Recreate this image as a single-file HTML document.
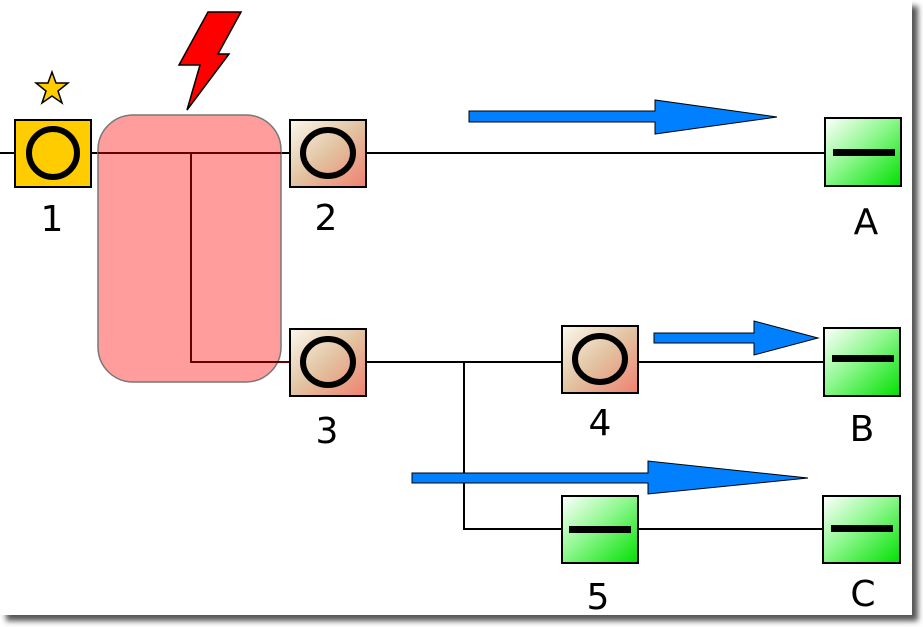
<!DOCTYPE html>
<html><head><style>html,body{margin:0;padding:0;background:#fff}svg{display:block}</style></head><body>
<svg width="923" height="627" viewBox="0 0 923 627" xmlns="http://www.w3.org/2000/svg" font-family="'DejaVu Sans','Liberation Sans',sans-serif">
<defs>
<linearGradient id="bg" x1="0" y1="0" x2="1" y2="1"><stop offset="0" stop-color="#fbf8ee"/><stop offset="0.5" stop-color="#e2c2a0"/><stop offset="1" stop-color="#f08070"/></linearGradient>
<linearGradient id="gg" x1="0" y1="0" x2="1" y2="1"><stop offset="0" stop-color="#ffffff"/><stop offset="0.45" stop-color="#90f890"/><stop offset="1" stop-color="#00e000"/></linearGradient>
<filter id="sh" x="-5%" y="-5%" width="110%" height="110%"><feGaussianBlur stdDeviation="3"/></filter>
</defs>
<rect x="6" y="6" width="912" height="615" fill="#555" filter="url(#sh)"/>
<rect x="0" y="0" width="912" height="615" fill="#fff"/>
<g stroke="#000" stroke-width="2" fill="none">
<line x1="0" y1="153" x2="825" y2="153"/>
<line x1="366" y1="362" x2="825" y2="362"/>
<polyline points="464,362 464,529 823,529"/>
</g>
<rect x="98" y="115" width="183" height="267" rx="35" fill="#ff7c7c" fill-opacity="0.75" stroke="#777" stroke-width="1.5"/>
<g stroke="#600" stroke-width="2" fill="none">
<line x1="98" y1="153" x2="281" y2="153"/>
<polyline points="191,153 191,362 290,362"/>
</g>
<polygon points="208,12 241,12 218,54 229,54 187,110 200,65 179,65" fill="#ff0000" stroke="#000" stroke-width="1.5"/>
<polygon points="52,72 56,83 68,83 58,91 62,103 52,96 42,103 46,91 36,83 48,83" fill="#ffcc00" stroke="#000" stroke-width="1.5"/>
<rect x="15" y="120" width="76" height="67" fill="#ffcc00" stroke="#000" stroke-width="2"/>
<circle cx="53" cy="153" r="24" fill="none" stroke="#000" stroke-width="6"/>
<g stroke="#000" stroke-width="2">
<rect x="290" y="120" width="76" height="67" fill="url(#bg)"/>
<rect x="290" y="329" width="76" height="67" fill="url(#bg)"/>
<rect x="562" y="326" width="76" height="67" fill="url(#bg)"/>
<rect x="825" y="118" width="76" height="68" fill="url(#gg)"/>
<rect x="824" y="328" width="76" height="68" fill="url(#gg)"/>
<rect x="562" y="496" width="76" height="67" fill="url(#gg)"/>
<rect x="823" y="496" width="77" height="67" fill="url(#gg)"/>
</g>
<g fill="none" stroke="#000" stroke-width="6">
<ellipse cx="328" cy="153" rx="25" ry="23"/>
<ellipse cx="328" cy="362" rx="25" ry="23"/>
<ellipse cx="600" cy="359" rx="25" ry="23"/>
</g>
<g fill="#000">
<rect x="833" y="149" width="62" height="7"/>
<rect x="832" y="355" width="62" height="7"/>
<rect x="569" y="526" width="62" height="7"/>
<rect x="831" y="525" width="62" height="7"/>
</g>
<g fill="#0080ff" stroke="#000" stroke-width="1">
<polygon points="469,111 655,111 655,100 777,117 655,134 655,122 469,122"/>
<polygon points="654,333 754,333 754,321 818,338 754,355 754,343 654,343"/>
<polygon points="412,473 648,473 648,461 808,478 648,494 648,483 412,483"/>
</g>
<g font-size="36" fill="#000" text-anchor="middle">
<text x="52" y="231">1</text>
<text x="326" y="230">2</text>
<text x="866" y="234">A</text>
<text x="327" y="443">3</text>
<text x="600" y="435">4</text>
<text x="862" y="441">B</text>
<text x="598" y="609">5</text>
<text x="863" y="606">C</text>
</g>
</svg>
</body></html>
